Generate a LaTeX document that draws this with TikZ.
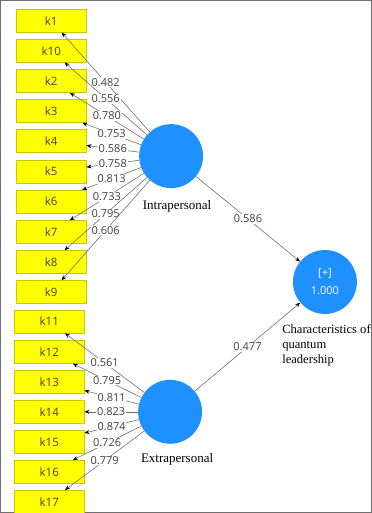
\documentclass[tikz,border=0pt]{standalone}
\usepackage{fontspec}
\setmainfont{Liberation Serif}
\newfontfamily\uisans{Open Sans}
\usetikzlibrary{arrows.meta}
\definecolor{IndYellow}{HTML}{FFFF00}
\definecolor{IndBorder}{HTML}{C8C800}
\definecolor{LvBlue}{HTML}{1E90FF}
\definecolor{PathGray}{HTML}{707070}
\definecolor{LabelGray}{HTML}{404040}

\begin{document}
\begin{tikzpicture}[
    x=1pt, y=-1pt,
    indicator/.style={
        rectangle,
        draw=IndBorder,
        fill=IndYellow,
        line width=0.5pt,
        minimum width=70pt,
        minimum height=23pt,
        inner sep=0pt,
        font=\uisans\fontsize{11.5}{13}\selectfont,
        text=LabelGray
    },
    construct/.style={
        circle,
        fill=LvBlue,
        minimum size=64pt,
        inner sep=0pt
    },
    loading/.style={
        fill=white,
        inner sep=0.8pt,
        font=\uisans\fontsize{11}{13}\selectfont,
        text=LabelGray
    },
    every path/.style={
        draw=PathGray,
        line width=0.6pt
    },
    tip/.style={-{Stealth[length=5pt,width=4pt,black]}}
]
\useasboundingbox (0,0) rectangle (371,513);

% indicators of the first construct
\node[indicator] (k1) at (51,20.5) {k1};
\node[indicator] (k10) at (51,50.5) {k10};
\node[indicator] (k2) at (51,81) {k2};
\node[indicator] (k3) at (51,111) {k3};
\node[indicator] (k4) at (51,141) {k4};
\node[indicator] (k5) at (51,171.5) {k5};
\node[indicator] (k6) at (51,201.5) {k6};
\node[indicator] (k7) at (51,232) {k7};
\node[indicator] (k8) at (51,262) {k8};
\node[indicator] (k9) at (51,292) {k9};

% indicators of the second construct
\node[indicator] (k11) at (49,321.5) {k11};
\node[indicator] (k12) at (49,352) {k12};
\node[indicator] (k13) at (49,382) {k13};
\node[indicator] (k14) at (49,412) {k14};
\node[indicator] (k15) at (49,442) {k15};
\node[indicator] (k16) at (49,472) {k16};
\node[indicator] (k17) at (49,502) {k17};

% constructs
\node[construct] (intra) at (171,156) {};
\node[construct] (extra) at (170,412) {};
\node[construct, text=white, font=\uisans\fontsize{11}{18}\selectfont, align=center]
    (cql) at (325,282) {[+]\\1.000};

\node[inner sep=0pt, font=\fontsize{13}{15}\selectfont] (intralab) at (177,206) {Intrapersonal};
\node[inner sep=0pt, font=\fontsize{13}{15}\selectfont] (extralab) at (177,460) {Extrapersonal};
\node[inner sep=0pt, anchor=north west, align=left, font=\fontsize{12.6}{15}\selectfont]
    (cqllab) at (282,324) {Characteristics of\\quantum\\leadership};

% outer loadings
\draw[tip] (intra) -- node[loading] {0.482} (k1);
\draw[tip] (intra) -- node[loading] {0.556} (k10);
\draw[tip] (intra) -- node[loading] {0.780} (k2);
\draw[tip] (intra) -- node[loading] {0.753} (k3);
\draw[tip] (intra) -- node[loading] {0.586} (k4);
\draw[tip] (intra) -- node[loading] {0.758} (k5);
\draw[tip] (intra) -- node[loading] {0.813} (k6);
\draw[tip] (intra) -- node[loading] {0.733} (k7);
\draw[tip] (intra) -- node[loading] {0.795} (k8);
\draw[tip] (intra) -- node[loading] {0.606} (k9);

\draw[tip] (extra) -- node[loading] {0.561} (k11);
\draw[tip] (extra) -- node[loading] {0.795} (k12);
\draw[tip] (extra) -- node[loading] {0.811} (k13);
\draw[tip] (extra) -- node[loading] {0.823} (k14);
\draw[tip] (extra) -- node[loading] {0.874} (k15);
\draw[tip] (extra) -- node[loading] {0.726} (k16);
\draw[tip] (extra) -- node[loading] {0.779} (k17);

% path coefficients
\draw[tip] (intra) -- node[loading] {0.586} (cql);
\draw[tip] (extra) -- node[loading] {0.477} (cql);

\end{tikzpicture}
\end{document}
